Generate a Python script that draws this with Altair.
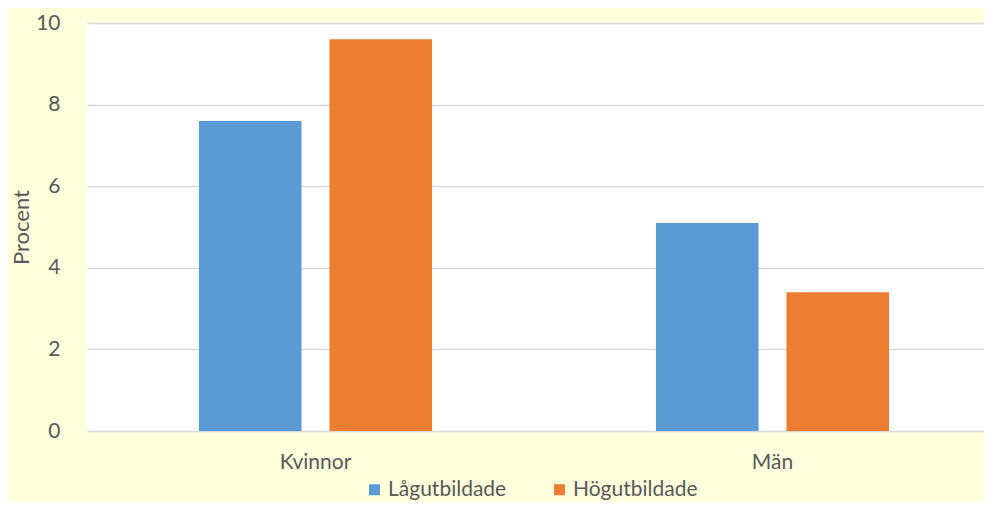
import altair as alt
import pandas as pd

categories = ["Kvinnor", "Män"]
groups = ["Lågutbildade", "Högutbildade"]
low_vals = [7.6, 5.1]
high_vals = [9.6, 3.4]
y_ticks = [0, 2, 4, 6, 8, 10]
colors = ["#5B9BD5", "#ED7D31"]

rows = []
for i, c in enumerate(categories):
    rows.append({"Kön": c, "Grupp": groups[0], "Procent": low_vals[i]})
    rows.append({"Kön": c, "Grupp": groups[1], "Procent": high_vals[i]})
df = pd.DataFrame(rows)

FONT = "Lato"
TXT = "#595959"

chart = alt.Chart(df).mark_bar().encode(
    x=alt.X("Kön:N", sort=categories,
            scale=alt.Scale(range=[0, 914], paddingInner=0.49, paddingOuter=0.245),
            axis=alt.Axis(title=None, labelAngle=0, ticks=False, domain=False,
                          labelPadding=20, labelFontSize=21, labelFont=FONT,
                          labelColor=TXT)),
    xOffset=alt.XOffset("Grupp:N", sort=groups,
                        scale=alt.Scale(paddingInner=0.214, paddingOuter=0)),
    y=alt.Y("Procent:Q", scale=alt.Scale(domain=[0, 10], nice=False),
            axis=alt.Axis(values=y_ticks, title="Procent", ticks=False, domain=False,
                          labelPadding=27, labelFontSize=21, labelFont=FONT,
                          labelColor=TXT, gridColor="#d9d9d9", gridWidth=1.5,
                          titleFont=FONT, titleFontSize=22, titleFontWeight="normal",
                          titleColor=TXT, titleX=-66, titleY=204, titleAngle=270,
                          titleAlign="center", titleBaseline="middle")),
    color=alt.Color("Grupp:N", sort=groups,
                    scale=alt.Scale(domain=groups, range=colors),
                    legend=alt.Legend(title=None, orient="none", legendX=277, legendY=456,
                                      direction="horizontal", symbolType="square",
                                      symbolSize=121, symbolStrokeWidth=0,
                                      labelFontSize=21, labelFont=FONT, labelColor=TXT,
                                      labelOffset=3, columnPadding=42, padding=0)),
).properties(
    width=897,
    height=408,
    background="#FFFFDD",
    padding={"left": 79, "top": 15, "right": 0, "bottom": 71},
    autosize=alt.AutoSizeParams(type="none"),
).configure_view(
    fill="#FFFFFF", stroke=None
)

chart.save("out.html", embed_options={"renderer": "svg", "actions": False})
